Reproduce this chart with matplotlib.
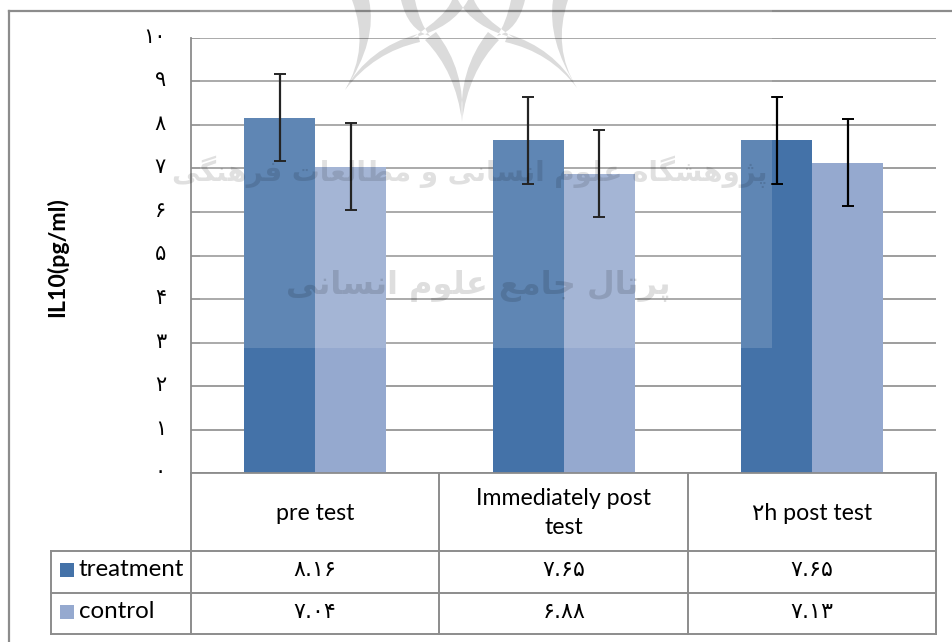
import matplotlib
matplotlib.use('Agg')
import matplotlib.pyplot as plt
from matplotlib.lines import Line2D
from matplotlib.patches import Rectangle, PathPatch
from matplotlib.path import Path
from matplotlib.transforms import Affine2D, ScaledTranslation

W, H = 953, 642

# ---- data ----
categories = ['pre test', 'Immediately post\ntest', '۲h post test']
series_names = ['treatment', 'control']
treatment = [8.16, 7.65, 7.65]
control = [7.04, 6.88, 7.13]
treatment_err = [1, 1, 1]
control_err = [1, 1, 1]
treatment_labels = ['۸.۱۶', '۷.۶۵', '۷.۶۵']
control_labels = ['۷.۰۴', '۶.۸۸', '۷.۱۳']
y_ticks = list(range(11))
y_tick_labels = ['۰', '۱', '۲', '۳', '۴', '۵', '۶', '۷', '۸', '۹', '۱۰']
y_label = 'IL10(pg/ml)'
watermark_1 = 'پژوهشگاه علوم انسانی و مطالعات فرهنگی'
watermark_2 = 'پرتال جامع علوم انسانی'

BLUE = '#4472A8'
LIGHT = '#95A9CF'
GRID = '#8C8C8C'
TXT = ['Lato', 'DejaVu Sans']
DIG = ['DejaVu Sans']

# contextual forms: (isolated, final, initial, medial)
FORMS = {
    'پ': (0xFB56, 0xFB57, 0xFB58, 0xFB59), 'ژ': (0xFB8A, 0xFB8B, None, None),
    'و': (0xFEED, 0xFEEE, None, None), 'ه': (0xFEE9, 0xFEEA, 0xFEEB, 0xFEEC),
    'ش': (0xFEB5, 0xFEB6, 0xFEB7, 0xFEB8), 'گ': (0xFB92, 0xFB93, 0xFB94, 0xFB95),
    'ا': (0xFE8D, 0xFE8E, None, None), 'ع': (0xFEC9, 0xFECA, 0xFECB, 0xFECC),
    'ل': (0xFEDD, 0xFEDE, 0xFEDF, 0xFEE0), 'م': (0xFEE1, 0xFEE2, 0xFEE3, 0xFEE4),
    'ن': (0xFEE5, 0xFEE6, 0xFEE7, 0xFEE8), 'ی': (0xFBFC, 0xFBFD, 0xFBFE, 0xFBFF),
    'ط': (0xFEC1, 0xFEC2, 0xFEC3, 0xFEC4), 'ت': (0xFE95, 0xFE96, 0xFE97, 0xFE98),
    'ف': (0xFED1, 0xFED2, 0xFED3, 0xFED4), 'ر': (0xFEAD, 0xFEAE, None, None),
    'ج': (0xFE9D, 0xFE9E, 0xFE9F, 0xFEA0), 'س': (0xFEB1, 0xFEB2, 0xFEB3, 0xFEB4),
}


def shape(s):
    out = []
    for i, c in enumerate(s):
        if c not in FORMS:
            out.append(c)
            continue
        f = FORMS[c]
        prev = s[i - 1] if i else ' '
        nxt = s[i + 1] if i + 1 < len(s) else ' '
        jp = prev in FORMS and FORMS[prev][2] is not None
        jn = nxt in FORMS and f[2] is not None
        code = f[3] if jp and jn else f[1] if jp else f[2] if jn else f[0]
        out.append(chr(code))
    return ''.join(reversed(out))


fig = plt.figure(figsize=(W / 100, H / 100), dpi=100, facecolor='white')
px = Affine2D().scale(1 / W, -1 / H).translate(0, 1) + fig.transFigure

# ---- axes ----
L, R, T, B = 191, 936.5, 37.7, 473.3
ax = fig.add_axes([L / W, 1 - B / H, (R - L) / W, (B - T) / H])
ax.set_xlim(0, 3)
ax.set_ylim(0, 10)
bw = 0.286
xs = [i + 0.5 for i in range(3)]
ax.set_axisbelow(True)
ax.yaxis.grid(True, color=GRID, lw=1.2)
ax.bar([x - bw / 2 for x in xs], treatment, bw, color=BLUE, zorder=2)
ax.bar([x + bw / 2 for x in xs], control, bw, color=LIGHT, zorder=2)
for pos, vals, errs in [([x - bw / 2 for x in xs], treatment, treatment_err),
                        ([x + bw / 2 for x in xs], control, control_err)]:
    ax.errorbar(pos, vals, yerr=errs, fmt='none', ecolor='black',
                elinewidth=1.6, capsize=4, capthick=1.4, zorder=3)
ax.set_xticks([])
ax.set_yticks(y_ticks)
ax.set_yticklabels(y_tick_labels, family=DIG, fontsize=15, color='black')
ax.tick_params(axis='y', length=0, pad=18)
shift = ScaledTranslation(0, 3 / 100, fig.dpi_scale_trans)
for lab in ax.get_yticklabels():
    lab.set_transform(lab.get_transform() + shift)
for s in ['top', 'right']:
    ax.spines[s].set_visible(False)
for s in ['left', 'bottom']:
    ax.spines[s].set_color(GRID)
    ax.spines[s].set_linewidth(1.3)


def line(x0, y0, x1, y1, lw=1.4, c=GRID):
    fig.add_artist(Line2D([x0, x1], [y0, y1], transform=px, color=c, lw=lw, zorder=2))


def txt(x, y, s, **kw):
    kw.setdefault('ha', 'center')
    kw.setdefault('va', 'center')
    kw.setdefault('color', 'black')
    fig.text(x, y, s, transform=px, **kw)


# ---- frame ----
line(8.7, 10.7, W, 10.7, lw=1.6)
line(8.7, 10.7, 8.7, H, lw=1.6)

# ---- data table ----
cols = [L, 439.4, 688, R]
rows = [B, 550.7, 592.7, 634]
for x in cols:
    line(x, B, x, rows[3])
for y in rows[1:]:
    line(51.3, y, R, y)
line(R, B, R, rows[3])
line(51.3, rows[1], 51.3, rows[3])

row_y = [570, 611.5]
for i, c in enumerate(categories):
    cx = (cols[i] + cols[i + 1]) / 2
    txt(cx, 513, c, family=TXT, fontsize=16.7, linespacing=1.5)
    txt(cx, row_y[0], treatment_labels[i], family=DIG, fontsize=16)
    txt(cx, row_y[1], control_labels[i], family=DIG, fontsize=16)
for name, col, yc in zip(series_names, [BLUE, LIGHT], row_y):
    fig.add_artist(Rectangle((60, yc - 7), 14, 14, transform=px, fc=col, ec='none', zorder=2))
    txt(79, yc - 0.5, name, family=TXT, fontsize=17.4, ha='left')

txt(57, 257, y_label, family=TXT, fontsize=16.7, fontweight='bold', rotation=90)

# ---- watermark ----
fig.add_artist(Rectangle((200, 0), 572, 348, transform=px, fc='white', ec='none',
                         alpha=0.145, zorder=4))


def spike(tip, c1, e1, e2, c2):
    v = [tip, c1, e1, e2, c2, tip]
    c = [Path.MOVETO, Path.CURVE3, Path.CURVE3, Path.LINETO, Path.CURVE3, Path.CURVE3]
    return v, c


spikes = [
    spike((462, 122), (456, 72), (425, 40), (436, 32), (466, 70)),
    spike((462, 122), (468, 72), (499, 40), (488, 32), (458, 70)),
    spike((345, 90), (368, 48), (418, 34), (420, 42), (374, 52)),
    spike((345, 90), (370, 48), (352, 0), (369, 0), (378, 40)),
    spike((577, 88), (554, 48), (508, 34), (505, 42), (550, 52)),
    spike((577, 88), (552, 48), (568, 0), (553, 0), (547, 40)),
    spike((430, 36), (408, 30), (401, 0), (415, 0), (420, 24)),
    spike((497, 36), (518, 30), (525, 0), (511, 0), (506, 24)),
    spike((412, 38), (453, 28), (468, 0), (452, 0), (446, 16)),
    spike((514, 38), (473, 28), (458, 0), (474, 0), (480, 16)),
]
verts, codes = [], []
for v, c in spikes:
    verts += v
    codes += c
fig.add_artist(PathPatch(Path(verts, codes), transform=px, fc='black', ec='none',
                         alpha=0.14, zorder=5))

txt(470, 172, shape(watermark_1), family=DIG, fontsize=20, fontweight='bold', alpha=0.12, zorder=5)
txt(478, 286, shape(watermark_2), family=DIG, fontsize=23, fontweight='bold', alpha=0.13, zorder=5)

fig.savefig('out.png', dpi=100)
